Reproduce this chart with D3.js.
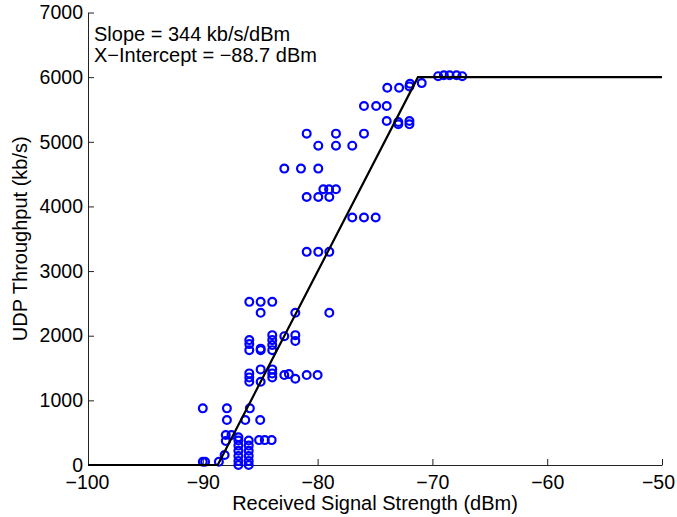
<!DOCTYPE html>
<html><head><meta charset="utf-8">
<script src="https://cdn.jsdelivr.net/npm/d3@7"></script>
<style>body{margin:0;background:#fff}svg{display:block}text{font-family:"Liberation Sans",Arial,sans-serif}</style>
</head><body>
<svg id="c" width="677" height="517"></svg>
<script>
const rssi = [
 -90.0,-87.9,-85.9, -87.9,-86.3,-85.0, -90.0,-89.8,-88.6,
 -88.0,-87.5,-86.9, -88.0,-88.1,
 -86.9,-86.9,-86.9,-86.9,-86.9,-86.9,
 -86.0,-86.0,-86.0,-86.0,-86.0,-86.0,
 -85.1,-84.6,-84.0,
 -85.95,-84.96,-83.95, -84.96,-81.94,-78.98,
 -85.95,-85.95,-85.95, -84.96,-84.96,
 -83.95,-83.95,-83.95,-83.95, -82.9, -81.94,-81.94,
 -84.96,-83.95, -85.95,-85.95,-85.95, -84.96, -83.95,-83.95,
 -82.9,-82.5, -81.94, -80.95,-80.0,
 -80.95,-78.4,-75.96, -79.94,-78.4,-76.98, -82.9,-81.45,-79.94,
 -79.5,-79.0,-78.4, -80.95,-79.94,-78.98, -76.98,-75.96,-74.94,
 -80.95,-79.94,-78.98,
 -75.96,-74.9,-73.98, -73.93,-72.9,-72.0,-71.95,-70.93,
 -73.98,-72.97,-72.97,-72.0,-72.0,
 -69.5,-69.0,-68.5,-67.9,-67.4
];
const throughput = [
 876,876,876, 695,695,695, 50,50,50,
 463,463,430, 370,155,
 0,60,140,220,300,380,
 0,60,140,220,300,380,
 385,385,385,
 2524,2524,2524, 2354,2354,2354,
 1932,1870,1777, 1800,1777,
 2009,1932,1855,1777, 1993, 2009,1920,
 1479,1479, 1417,1355,1288, 1288, 1417,1355,
 1391,1406, 1334, 1391,1391,
 5126,5126,5126, 4940,4940,4940, 4585,4585,4585,
 4265,4265,4265, 4147,4147,4147, 3828,3828,3828,
 3297,3297,3297,
 5553,5553,5553, 5837,5837,5857,5898,5908,
 5321,5305,5270,5321,5270,
 6015,6030,6030,6030,6015
];
const fitX = [-100, -88.7, -71.26, -50];
const fitY = [0, 0, 6000, 6000];
const xTicks = [-100,-90,-80,-70,-60,-50];
const yTicks = [0,1000,2000,3000,4000,5000,6000,7000];
const annotations = ["Slope = 344 kb/s/dBm", "X\u2212Intercept = \u221288.7 dBm"];

const svg = d3.select("#c");
const L=88, R=662, T=12.5, B=465;
const x = d3.scaleLinear().domain([-100,-50]).range([L,R]);
const y = d3.scaleLinear().domain([0,7000]).range([B,T]);
const fmt = d => d<0 ? "\u2212"+Math.abs(d) : String(d);

const xa = svg.append("g").attr("transform",`translate(0,${B})`)
  .call(d3.axisBottom(x).tickValues(xTicks).tickSizeInner(-6).tickSizeOuter(0).tickPadding(10).tickFormat(fmt));
const ya = svg.append("g").attr("transform",`translate(${L},0)`)
  .call(d3.axisLeft(y).tickValues(yTicks).tickSizeInner(-6).tickSizeOuter(0).tickPadding(5).tickFormat(fmt));
[xa,ya].forEach(a=>{
  a.selectAll("path,line").attr("stroke","#222").attr("stroke-width",1);
  a.selectAll("text").attr("font-size",19.5).attr("fill","#000").attr("font-family","Liberation Sans, Arial, sans-serif");
});
xa.selectAll(".tick text").filter(d=>d===-50).attr("dx",-4);
xa.selectAll(".tick text").filter(d=>d===-100).attr("dx",-1);

const pts = rssi.map((r,i)=>[r,throughput[i]]);
svg.append("g").selectAll("circle").data(pts).join("circle")
  .attr("cx",d=>x(d[0])).attr("cy",d=>y(d[1])).attr("r",3.9)
  .attr("fill","none").attr("stroke","#0000ff").attr("stroke-width",2.2);

svg.append("path").datum(fitX.map((v,i)=>[v,fitY[i]]))
  .attr("d",d3.line().x(d=>x(d[0])).y(d=>y(d[1])))
  .attr("fill","none").attr("stroke","#000").attr("stroke-width",2.2);

svg.append("g").selectAll("text").data(annotations).join("text")
  .attr("x",94).attr("y",(d,i)=>40.5+i*21.2).attr("font-size",20).text(d=>d);

svg.append("text").attr("x",(L+R)/2).attr("y",510).attr("text-anchor","middle").attr("font-size",20)
  .text("Received Signal Strength (dBm)");
svg.append("text").attr("transform",`translate(27,${(T+B)/2}) rotate(-90)`).attr("text-anchor","middle").attr("font-size",20)
  .text("UDP Throughput (kb/s)");
</script>
</body></html>
